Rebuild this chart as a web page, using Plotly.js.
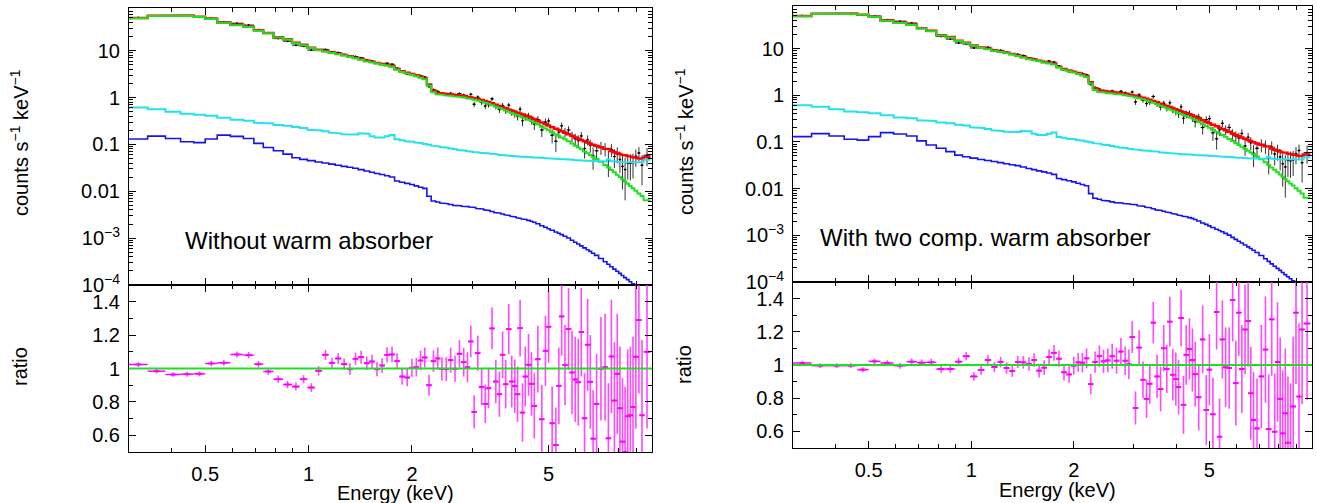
<!DOCTYPE html>
<html><head><meta charset="utf-8">
<script src="https://cdn.plot.ly/plotly-3.0.1.min.js"></script>
<style>html,body{margin:0;padding:0;background:#fff}#chart{width:1317px;height:503px}</style>
</head><body><div id="chart"></div>
<script>
// Energy bin edges (keV)
const binEdges = [0.300,0.340,0.383,0.424,0.463,0.500,0.542,0.592,0.646,0.693,
0.738,0.790,0.843,0.895,0.943,0.992,1.045,1.095,1.145,1.195,
1.245,1.295,1.345,1.395,1.450,1.505,1.555,1.610,1.665,1.720,
1.780,1.840,1.905,1.970,2.030,2.090,2.150,2.210,2.275,2.345,
2.410,2.480,2.555,2.630,2.710,2.790,2.870,2.935,3.000,3.070,
3.150,3.235,3.305,3.380,3.465,3.555,3.635,3.710,3.790,3.865,
3.945,4.025,4.095,4.165,4.230,4.320,4.420,4.495,4.590,4.715,
4.840,4.950,5.050,5.190,5.310,5.400,5.515,5.645,5.785,5.915,
6.040,6.160,6.290,6.435,6.555,6.670,6.805,6.990,7.215,7.390,
7.540,7.695,7.850,7.995,8.135,8.275,8.425,8.575,8.725,8.885,
9.065,9.255,9.450,9.900];

// Total model (red), counts s^-1 keV^-1
const modelTotal = [49.7,55.7,56.6,56.1,53.0,47.9,40.0,35.5,32.5,27.1,
23.9,19.3,17.6,14.7,13.3,11.6,10.44,9.83,9.11,8.61,
8.10,7.59,7.09,6.60,6.10,5.78,5.47,5.16,4.97,4.73,
4.04,3.64,3.38,3.18,2.97,2.77,2.56,1.90,1.40,1.27,
1.23,1.20,1.17,1.14,1.11,1.08,1.04,1.005,0.97,0.93,
0.885,0.84,0.80,0.755,0.705,0.66,0.624,0.588,0.556,0.529,
0.501,0.475,0.454,0.434,0.415,0.391,0.371,0.349,0.321,0.292,
0.271,0.252,0.233,0.215,0.202,0.190,0.178,0.165,0.152,0.141,
0.1326,0.1246,0.1164,0.1098,0.1042,0.0988,0.0928,0.0866,0.0802,0.0799,
0.0726,0.0683,0.0651,0.0626,0.0603,0.0582,0.0564,0.0548,0.0534,0.0519,
0.0506,0.0498,0.0535];

// Main absorbed continuum component (green)
const modelGreen = [49,55,56,55.5,52.5,47.4,39.5,35,32,26.7,
23.5,19,17.3,14.4,13,11.4,10.2,9.6,8.9,8.4,
7.9,7.4,6.9,6.4,5.9,5.6,5.3,5.0,4.8,4.55,
3.9,3.5,3.25,3.05,2.85,2.65,2.45,1.79,1.30,1.17,
1.14,1.11,1.08,1.056,1.03,1.00,0.963,0.930,0.897,0.859,
0.815,0.771,0.732,0.688,0.640,0.597,0.562,0.527,0.495,0.469,
0.442,0.417,0.396,0.377,0.359,0.335,0.316,0.294,0.267,0.239,
0.218,0.200,0.182,0.164,0.152,0.140,0.129,0.116,0.104,0.094,
0.0858,0.0784,0.0708,0.0645,0.0593,0.0542,0.0486,0.0426,0.0365,0.0321,
0.0283,0.0253,0.0224,0.0201,0.0180,0.0161,0.0144,0.0129,0.0116,0.0102,
0.0090,0.0079,0.0064];

// Scattered component (cyan)
const modelCyan = [0.61,0.565,0.50,0.45,0.43,0.41,0.37,0.335,0.32,0.29,
0.28,0.26,0.25,0.234,0.225,0.205,0.198,0.19,0.178,0.172,
0.165,0.160,0.163,0.172,0.168,0.150,0.141,0.140,0.150,0.158,
0.128,0.122,0.117,0.114,0.110,0.106,0.102,0.098,0.094,0.091,
0.088,0.085,0.082,0.079,0.076,0.074,0.072,0.070,0.069,0.067,
0.066,0.065,0.064,0.063,0.062,0.060,0.059,0.058,0.0575,0.057,
0.056,0.0555,0.055,0.0545,0.054,0.0535,0.053,0.0525,0.052,0.0515,
0.051,0.0505,0.050,0.0495,0.049,0.0485,0.048,0.0475,0.047,0.0465,
0.046,0.0455,0.045,0.0447,0.0444,0.0441,0.0438,0.0436,0.0434,0.0475,
0.044,0.0428,0.0425,0.0423,0.0421,0.042,0.0419,0.0418,0.0417,0.0416,
0.0415,0.0418,0.047];

// Thermal component (blue)
const modelBlue = [0.13,0.15,0.134,0.114,0.109,0.13,0.158,0.148,0.134,0.105,
0.086,0.073,0.062,0.052,0.048,0.045,0.042,0.040,0.038,0.036,
0.034,0.0325,0.031,0.029,0.027,0.0255,0.024,0.0228,0.0215,0.0202,
0.0165,0.0156,0.0147,0.0139,0.013,0.0122,0.0115,0.0078,0.0062,0.0059,
0.0056,0.0054,0.0052,0.0050,0.0049,0.0048,0.0047,0.0046,0.0045,0.0043,
0.0042,0.0040,0.0039,0.0037,0.0035,0.0034,0.00327,0.00314,0.00303,0.00293,
0.00283,0.00272,0.00264,0.00256,0.00249,0.00239,0.0023,0.00218,0.00202,0.00184,
0.00171,0.00159,0.00147,0.00135,0.00127,0.00119,0.0011,0.00101,0.000902,0.000817,
0.000747,0.000685,0.000619,0.000565,0.000521,0.000477,0.000429,0.000368,0.000314,0.000277,
0.000245,0.000218,0.000196,0.000177,0.00016,0.000144,0.00013,0.000117,0.000106,0.0000949,
0.0000841,0.0000746,0.0000614];

// Data/model ratio, fit without warm absorber
const ratioWithout = [1.024,0.984,0.964,0.966,0.968,1.03,1.034,1.084,1.08,1.026,
0.982,0.936,0.904,0.892,0.936,0.886,0.986,1.082,1.034,1.06,
1.026,0.996,1.058,1.068,1.032,1.042,0.996,1.018,1.082,1.084,
1.044,0.952,0.946,1.004,1.008,1.048,1.066,0.90,1.044,1.06,
0.998,0.996,1.05,0.998,1.088,1.038,1.008,1.162,0.74,1.092,
0.89,0.788,0.882,1.24,0.922,0.846,1.082,0.906,1.236,0.922,
0.894,0.846,1.242,0.736,0.952,1.022,0.908,0.776,1.056,0.696,
1.106,1.25,0.672,0.542,0.896,1.312,1.02,1.236,0.976,0.934,
0.918,1.218,0.702,1.142,0.92,0.58,0.788,0.998,1.008,0.582,
1.072,0.808,0.968,0.762,0.562,0.50,0.714,0.72,0.77,1.07,
1.29,0.72,1.10];

// Data/model ratio, fit with two-component warm absorber
const ratioWith = [1.012,0.996,0.996,0.996,0.972,1.022,1.012,0.996,1.02,1.014,
1.016,0.976,0.976,1.02,1.053,0.931,0.97,1.03,0.988,1.018,
0.982,0.964,1.018,1.016,1.006,1.03,0.966,0.984,1.048,1.073,
1.038,0.956,0.943,0.996,1.016,1.014,1.04,0.885,1.018,1.053,
1.022,1.028,1.053,1.026,1.081,1.026,1.004,1.168,0.741,1.105,
0.911,0.796,0.887,1.255,0.931,0.855,1.101,0.976,1.261,0.941,
0.915,0.867,1.283,0.76,1.061,1.097,1.03,0.945,0.806,1.154,
0.729,0.972,0.703,1.319,0.568,1.154,0.986,0.982,1.392,0.891,
1.315,0.976,1.214,1.265,0.83,0.669,0.618,0.931,1.093,0.614,
1.275,0.598,1.018,0.796,0.588,0.709,0.531,0.48,0.75,1.315,
0.81,1.214,1.25];

// 1-sigma relative error of each bin
const ratioErr = [0.014,0.014,0.014,0.015,0.015,0.016,0.017,0.018,0.019,0.02,
0.02,0.022,0.023,0.024,0.025,0.026,0.028,0.03,0.031,0.032,
0.034,0.035,0.036,0.038,0.04,0.041,0.042,0.044,0.045,0.047,
0.048,0.05,0.052,0.054,0.056,0.058,0.06,0.062,0.064,0.066,
0.07,0.072,0.075,0.078,0.082,0.086,0.09,0.095,0.1,0.105,
0.11,0.115,0.12,0.125,0.13,0.135,0.14,0.145,0.15,0.155,
0.16,0.165,0.17,0.175,0.18,0.185,0.19,0.195,0.2,0.205,
0.21,0.215,0.22,0.225,0.23,0.235,0.24,0.245,0.25,0.255,
0.26,0.265,0.27,0.275,0.28,0.29,0.3,0.31,0.32,0.33,
0.34,0.35,0.36,0.37,0.38,0.39,0.4,0.41,0.42,0.43,
0.44,0.45,0.46];

const xTickVals = [0.5, 1, 2, 5];
const xTickText = ['0.5', '1', '2', '5'];
const xMinorVals = [0.4, 0.6, 0.7, 0.8, 0.9, 3, 4, 6, 7, 8, 9];
const yTickVals = [1e-4, 1e-3, 0.01, 0.1, 1, 10];
const yTickText = ['10<sup>−4</sup>', '10<sup>−3</sup>', '0.01', '0.1', '1', '10'];
const rTickVals = [0.6, 0.8, 1, 1.2, 1.4];
const rTickText = ['0.6', '0.8', '1', '1.2', '1.4'];
const rMinorVals = [0.7, 0.9, 1.1, 1.3];
const panelLabels = ['Without warm absorber', 'With two comp. warm absorber'];

// ---- derived tables ----
const nb = binEdges.length - 1;
const eLo = binEdges.slice(0, nb), eHi = binEdges.slice(1);
const eMid = eLo.map((lo, i) => Math.sqrt(lo * eHi[i]));
const exPlus = eMid.map((c, i) => eHi[i] - c);
const exMinus = eMid.map((c, i) => c - eLo[i]);
const dataRate = ratioWithout.map((r, i) => r * modelTotal[i]);
const dataErr = ratioErr.map((e, i) => e * modelTotal[i]);
const yMinorVals = [];
for (let d = -4; d <= 1; d++) for (let m = 2; m <= 9; m++) { const v = m * Math.pow(10, d); if (v < 80) yMinorVals.push(v); }

function steps(vals) {
  const x = [], y = [];
  for (let i = 0; i < nb; i++) { x.push(eLo[i], eHi[i]); y.push(vals[i], vals[i]); }
  return { x, y };
}

const C = { red: '#ff0000', green: '#1fe01f', cyan: '#22e2f0', blue: '#1414ee', mag: '#ff00ff' };
const traces = [];
function panel(xa, ya, xb, yb, ratio) {
  traces.push({ type: 'scatter', mode: 'markers', x: eMid, y: dataRate, xaxis: xa, yaxis: ya,
    marker: { size: 2, color: '#000' },
    error_x: { type: 'data', symmetric: false, array: exPlus, arrayminus: exMinus, color: '#000', thickness: 1, width: 0 },
    error_y: { type: 'data', array: dataErr, color: '#333', thickness: 1, width: 0 } });
  const comps = [[modelTotal, C.red, 2.5], [modelGreen, C.green, 2], [modelCyan, C.cyan, 2], [modelBlue, C.blue, 1.6]];
  comps.forEach(([v, col, w]) => {
    const s = steps(v);
    traces.push({ type: 'scatter', mode: 'lines', x: s.x, y: s.y, xaxis: xa, yaxis: ya, line: { color: col, width: w }, hoverinfo: 'skip' });
  });
  traces.push({ type: 'scatter', mode: 'markers', x: eMid, y: ratio, xaxis: xb, yaxis: yb,
    marker: { size: 4, symbol: 'line-ew', line: { color: C.mag, width: 2 }, color: C.mag },
    error_x: { type: 'data', symmetric: false, array: exPlus, arrayminus: exMinus, color: C.mag, thickness: 1.5, width: 0 },
    error_y: { type: 'data', array: ratioErr, color: 'rgba(255,40,255,0.85)', thickness: 1.6, width: 0 } });
}
panel('x', 'y', 'x2', 'y2', ratioWithout);
panel('x3', 'y3', 'x4', 'y4', ratioWith);

const W = 1317, H = 503;
const common = { showline: true, linecolor: '#000', linewidth: 1, mirror: 'ticks', ticks: 'inside', tickcolor: '#000',
  tickwidth: 1, ticklen: 7, showgrid: false, zeroline: false, tickfont: { size: 20, color: '#000' } };
const xRange = [Math.log10(0.3), 1];
function xAxis(dom, anchor, labels) {
  return Object.assign({}, common, { type: 'log', range: xRange, domain: dom, anchor: anchor, tickmode: 'array',
    tickvals: xTickVals, ticktext: xTickText, showticklabels: labels, ticklabelstandoff: 4,
    minor: { tickmode: 'array', tickvals: xMinorVals, ticks: 'inside', ticklen: 4, tickcolor: '#000', showgrid: false } });
}
function yTop(dom, anchor) {
  return Object.assign({}, common, { type: 'log', range: [-4, 1.91], domain: dom, anchor: anchor, tickmode: 'array',
    tickvals: yTickVals, ticktext: yTickText, ticklabelstandoff: 4,
    minor: { tickmode: 'array', tickvals: yMinorVals, ticks: 'inside', ticklen: 4, tickcolor: '#000', showgrid: false } });
}
function yRat(dom, anchor) {
  return Object.assign({}, common, { range: [0.5, 1.5], domain: dom, anchor: anchor, tickmode: 'array',
    tickvals: rTickVals, ticktext: rTickText, ticklabelstandoff: 4,
    minor: { tickmode: 'array', tickvals: rMinorVals, ticks: 'inside', ticklen: 4, tickcolor: '#000', showgrid: false } });
}
const dxL = [129 / W, 652 / W], dxR = [793 / W, 1312 / W];
const dTopL = [1 - 285 / H, 1 - 8 / H], dBotL = [1 - 452 / H, 1 - 285 / H];
const dTopR = [1 - 282 / H, 1 - 6 / H], dBotR = [1 - 448 / H, 1 - 282 / H];

function ann(text, px, py, size, angle, xanchor) {
  return { text: text, xref: 'paper', yref: 'paper', x: px / W, y: 1 - py / H, showarrow: false,
    xanchor: xanchor || 'center', yanchor: 'middle', textangle: angle || 0, font: { size: size, color: '#000' } };
}
const unityRatio = 1;
function unity(xr, yr) {
  return { type: 'line', xref: xr + ' domain', x0: 0, x1: 1, yref: yr, y0: unityRatio, y1: unityRatio,
    line: { color: C.green, width: 2 }, layer: 'above' };
}

const layout = {
  width: W, height: H, margin: { l: 0, r: 0, t: 0, b: 0 }, paper_bgcolor: '#fff', plot_bgcolor: '#fff', showlegend: false,
  font: { family: 'Liberation Sans, Arial, sans-serif', size: 20, color: '#000' },
  xaxis: xAxis(dxL, 'y', false), yaxis: yTop(dTopL, 'x'),
  xaxis2: xAxis(dxL, 'y2', true), yaxis2: yRat(dBotL, 'x2'),
  xaxis3: xAxis(dxR, 'y3', false), yaxis3: yTop(dTopR, 'x3'),
  xaxis4: xAxis(dxR, 'y4', true), yaxis4: yRat(dBotR, 'x4'),
  shapes: [unity('x2', 'y2'), unity('x4', 'y4')],
  annotations: [
    ann('counts s<sup>−1</sup> keV<sup>−1</sup>', 20, 143, 20, -90),
    ann('counts s<sup>−1</sup> keV<sup>−1</sup>', 684, 142, 20, -90),
    ann('ratio', 20, 367, 20, -90),
    ann('ratio', 684, 365, 20, -90),
    ann('Energy (keV)', 395, 493, 20),
    ann('Energy (keV)', 1057, 490, 20),
    ann(panelLabels[0], 183, 240, 24, 0, 'left'),
    ann(panelLabels[1], 818, 237, 24, 0, 'left')
  ]
};
Plotly.newPlot('chart', traces, layout, { displayModeBar: false, staticPlot: true });
</script>
</body></html>
